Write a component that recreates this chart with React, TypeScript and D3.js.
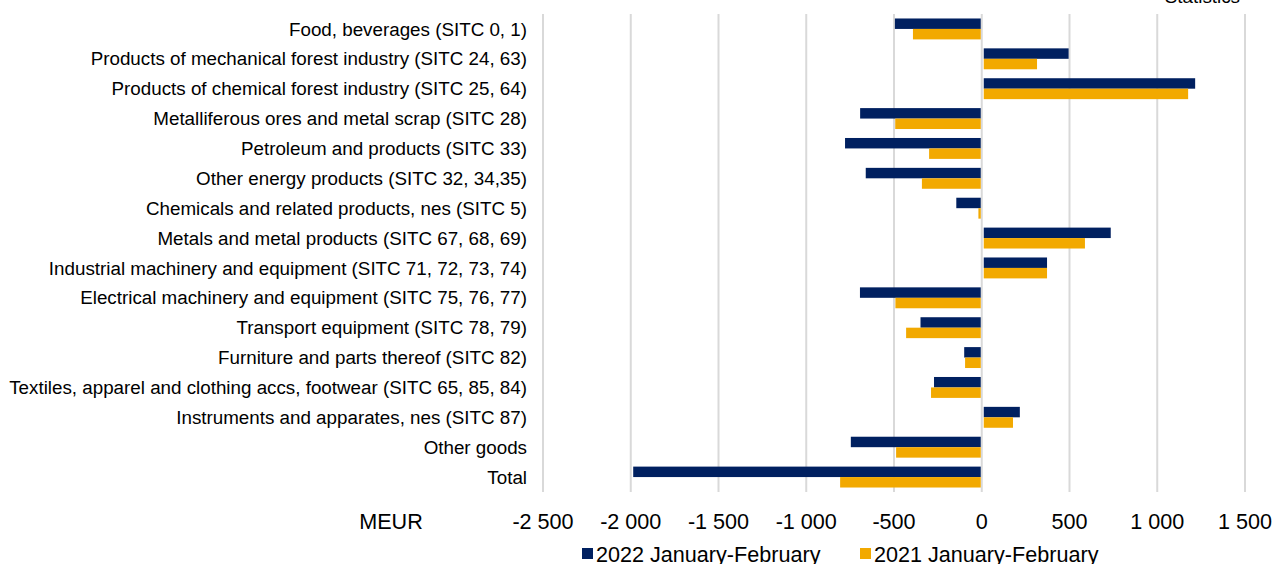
import * as d3 from 'd3';
import { type FC } from 'react';

const categories: string[] = [
  'Food, beverages (SITC 0, 1)',
  'Products of mechanical forest industry (SITC 24, 63)',
  'Products of chemical forest industry (SITC 25, 64)',
  'Metalliferous ores and metal scrap (SITC 28)',
  'Petroleum and products (SITC 33)',
  'Other energy products (SITC 32, 34,35)',
  'Chemicals and related products, nes (SITC 5)',
  'Metals and metal products (SITC 67, 68, 69)',
  'Industrial machinery and equipment (SITC 71, 72, 73, 74)',
  'Electrical machinery and equipment (SITC 75, 76, 77)',
  'Transport equipment (SITC 78, 79)',
  'Furniture and parts thereof (SITC 82)',
  'Textiles, apparel and clothing accs, footwear (SITC 65, 85, 84)',
  'Instruments and apparates, nes (SITC 87)',
  'Other goods',
  'Total',
];

const values2022: number[] = [
  -495, 495, 1216, -693, -779, -661, -145, 735, 372, -694, -349, -100, -272, 217, -746, -1986,
];
const values2021: number[] = [
  -392, 315, 1176, -493, -300, -341, -19, 588, 372, -492, -431, -95, -289, 178, -488, -807,
];

const seriesNames: string[] = ['2022 January-February', '2021 January-February'];
const seriesColors: string[] = ['#002060', '#f2a900'];
const tickValues: number[] = [-2500, -2000, -1500, -1000, -500, 0, 500, 1000, 1500];

const width = 1272;
const height = 564;
const marginTop = 14;
const plotBottom = 492;
const plotLeft = 543;
const plotRight = 1245;
const font = 'Liberation Sans, Arial, sans-serif';

const fmt = (v: number) => d3.format(',')(v).replace(/,/g, ' ').replace('−', '-');

const App: FC = () => {
  const x = d3.scaleLinear([-2500, 1500], [plotLeft, plotRight]);
  const y = d3
    .scaleBand<string>(categories, [marginTop, plotBottom])
    .paddingInner(0.3)
    .paddingOuter(0.15);
  const sub = d3.scaleBand<number>([0, 1], [0, y.bandwidth()]);
  const series = [values2022, values2021];

  return (
    <svg
      width={width}
      height={height}
      viewBox={`0 0 ${width} ${height}`}
      style={{ position: 'absolute', left: 0, top: 0, background: '#fff' }}
      fontFamily={font}
    >
      <text x={1240} y={3} textAnchor='end' fontSize={18.8} fill='#000'>
        Statistics
      </text>
      <g stroke='#d9d9d9' strokeWidth={2}>
        {tickValues.map((t) => (
          <line key={t} x1={x(t)} x2={x(t)} y1={marginTop} y2={plotBottom} />
        ))}
      </g>
      {series.map((vals, si) => (
        <g key={si} fill={seriesColors[si]}>
          {vals.map((v, i) => (
            <rect
              key={i}
              x={Math.min(x(0), x(v)) + (v > 0 ? 2 : 0)}
              y={(y(categories[i]) ?? 0) + (sub(si) ?? 0)}
              width={Math.max(0, Math.abs(x(v) - x(0)) - (v > 0 ? 2 : 1))}
              height={sub.bandwidth()}
            />
          ))}
        </g>
      ))}
      <g fontSize={18.8} fill='#000' textAnchor='end'>
        {categories.map((c) => (
          <text key={c} x={527} y={(y(c) ?? 0) + y.bandwidth() / 2} dy='0.35em'>
            {c}
          </text>
        ))}
      </g>
      <g fontSize={21.6} fill='#000' textAnchor='middle'>
        {tickValues.map((t) => (
          <text key={t} x={x(t)} y={521} dy='0.35em'>
            {fmt(t)}
          </text>
        ))}
        <text x={391} y={521} dy='0.35em'>
          MEUR
        </text>
      </g>
      <g fontSize={21.6} fill='#000'>
        {seriesNames.map((name, i) => {
          const lx = i === 0 ? 582 : 860;
          return (
            <g key={name}>
              <rect x={lx} y={548} width={11} height={11} fill={seriesColors[i]} />
              <text x={lx + 14} y={554} dy='0.35em'>
                {name}
              </text>
            </g>
          );
        })}
      </g>
    </svg>
  );
};

export default App;
